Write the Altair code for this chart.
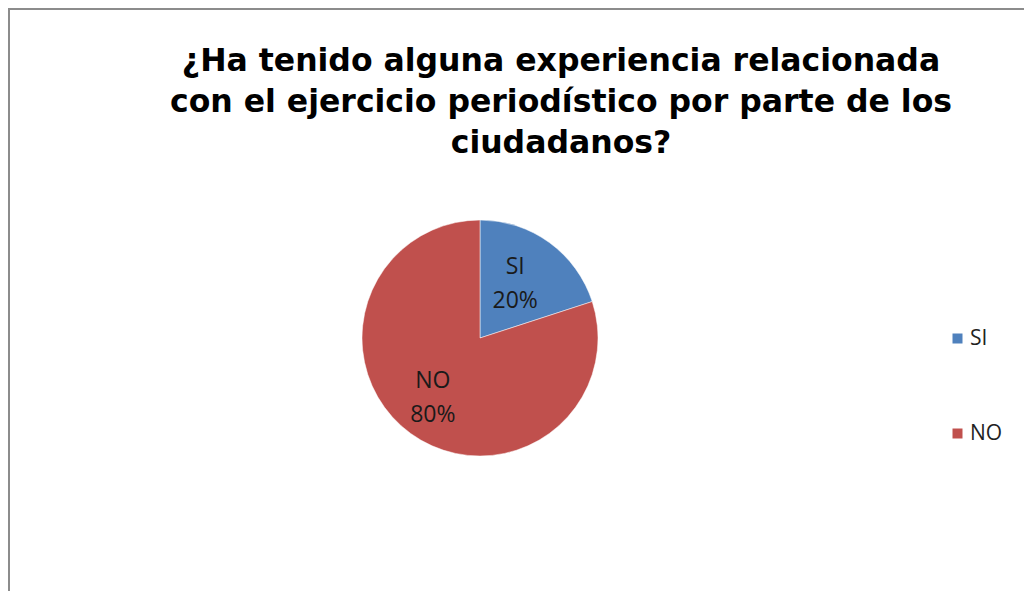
import altair as alt
import pandas as pd

categories = ["SI", "NO"]
values = [20, 80]
colors = ["#4F81BD", "#C0504D"]
title_lines = [
    "¿Ha tenido alguna experiencia relacionada",
    "con el ejercicio periodístico por parte de los",
    "ciudadanos?",
]

df = pd.DataFrame({"cat": categories, "val": values, "ord": list(range(len(categories)))})
df["label"] = df["cat"] + "\n" + df["val"].astype(str) + "%"
title_df = pd.DataFrame({"t": ["\n".join(title_lines)]})

W, H = 1016, 583
CX, CY = 472, 330

base = alt.Chart(df).encode(
    theta=alt.Theta("val:Q", stack=True),
    order=alt.Order("ord:Q"),
)

pie = base.mark_arc(outerRadius=118, stroke="#ffffff", strokeWidth=0.5).encode(
    x=alt.value(CX),
    y=alt.value(CY),
    color=alt.Color(
        "cat:N",
        scale=alt.Scale(domain=categories, range=colors),
        sort=categories,
        legend=alt.Legend(
            title=None,
            orient="none",
            legendX=939,
            legendY=320,
            symbolType="square",
            symbolSize=100,
            symbolStrokeWidth=0,
            labelFont="Open Sans",
            labelFontSize=21,
            labelColor="#222222",
            labelOffset=2,
            rowPadding=73,
        ),
    ),
)

labels = base.mark_text(
    radius=70,
    font="Open Sans",
    fontSize=23,
    color="#1a1a1a",
    lineBreak="\n",
    lineHeight=34,
    align="center",
    baseline="middle",
    dx=-6,
    dy=-14,
).encode(
    x=alt.value(CX),
    y=alt.value(CY),
    text="label:N",
)

title = alt.Chart(title_df).mark_text(
    font="DejaVu Sans",
    fontSize=31.5,
    fontWeight="bold",
    color="#000000",
    lineBreak="\n",
    lineHeight=41,
    align="center",
    baseline="top",
).encode(
    x=alt.value(553),
    y=alt.value(38),
    text="t:N",
)

border_top = alt.Chart(title_df).mark_rule(color="#8c8c8c", strokeWidth=2).encode(
    x=alt.value(0), x2=alt.value(W), y=alt.value(1)
)
border_left = alt.Chart(title_df).mark_rule(color="#8c8c8c", strokeWidth=2).encode(
    x=alt.value(1), y=alt.value(0), y2=alt.value(H)
)

chart = (
    alt.layer(pie, labels, title, border_top, border_left)
    .properties(
        width=W,
        height=H,
        padding=0,
        autosize=alt.AutoSizeParams(type="none"),
    )
    .configure_view(stroke=None)
    .configure(background="#ffffff")
)

chart.save("out.html", embed_options={"renderer": "svg", "actions": False})
